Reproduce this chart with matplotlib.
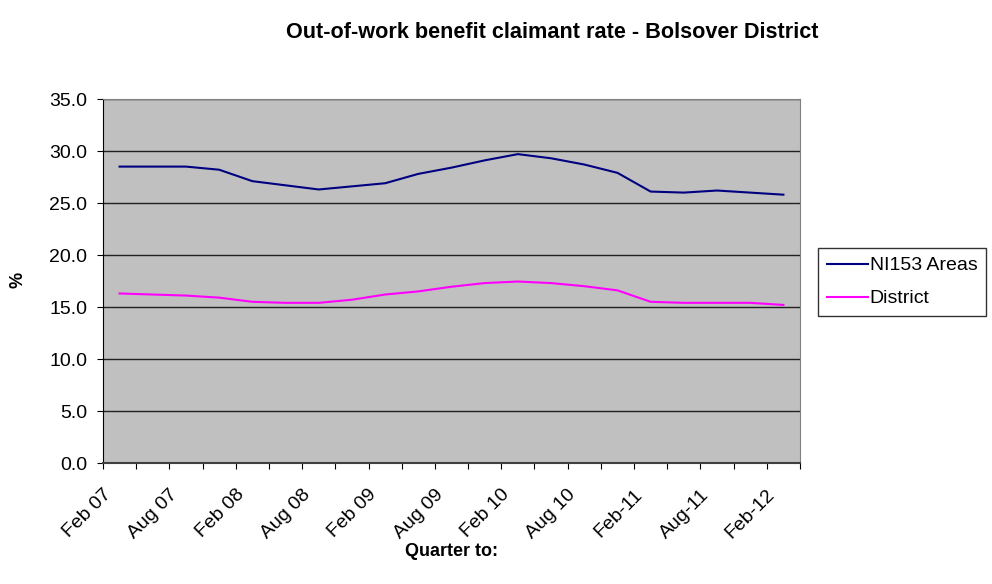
import matplotlib
matplotlib.use("Agg")
from matplotlib import pyplot as plt
from matplotlib.transforms import ScaledTranslation
import numpy as np

plt.rcParams['font.family'] = ['Liberation Sans', 'DejaVu Sans']

QUARTERS = ["Feb 07", "May 07", "Aug 07", "Nov 07", "Feb 08", "May 08", "Aug 08",
            "Nov 08", "Feb 09", "May 09", "Aug 09", "Nov 09", "Feb 10", "May 10",
            "Aug 10", "Nov 10", "Feb-11", "May-11", "Aug-11", "Nov-11", "Feb-12"]

NI153_AREAS = [28.5, 28.5, 28.5, 28.2, 27.1, 26.7, 26.3, 26.6, 26.9, 27.8, 28.4,
               29.1, 29.7, 29.3, 28.7, 27.9, 26.1, 26.0, 26.2, 26.0, 25.8]
DISTRICT = [16.3, 16.2, 16.1, 15.9, 15.5, 15.4, 15.4, 15.7, 16.2, 16.5, 16.95,
            17.3, 17.45, 17.3, 17.0, 16.6, 15.5, 15.4, 15.4, 15.4, 15.2]

fig = plt.figure(figsize=(9.92, 5.84), dpi=100)
ax = fig.add_axes([103 / 992, 1 - 463 / 584, 697 / 992, 364 / 584])
ax.set_facecolor("#C0C0C0")

n = len(QUARTERS)
x = np.arange(n)
ax.plot(x, NI153_AREAS, color="#000080", lw=1.5, label="NI153 Areas")
ax.plot(x, DISTRICT, color="#FF00FF", lw=1.5, label="District")

ax.set_xlim(-0.5, n - 0.5)
ax.set_ylim(0, 35)
yt = np.arange(0, 35.1, 5)
ax.set_yticks(yt)
ax.set_yticklabels([f"{v:.1f}" for v in yt], fontsize=14)
ax.yaxis.grid(True, color="#202020", lw=1)
ax.set_axisbelow(True)

# ticks between categories, labels on every other category
ax.set_xticks(np.arange(-0.5, n, 1))
ax.set_xticklabels([])
ax.set_xticks(x[::2], minor=True)
ax.set_xticklabels(QUARTERS[::2], minor=True, rotation=45, ha="right", va="center",
                   rotation_mode="anchor", fontsize=14)
ax.tick_params(axis="x", which="minor", length=0, pad=21)
ax.tick_params(axis="x", which="major", length=4.5, color="#000000")
ax.tick_params(axis="y", length=4.5, pad=7)
shift = ScaledTranslation(-11 / 100, 0, fig.dpi_scale_trans)
for lbl in ax.get_xticklabels(minor=True):
    lbl.set_transform(lbl.get_transform() + shift)

for side in ["top", "right"]:
    ax.spines[side].set_color("#808080")
ax.spines["left"].set_color("#000000")
ax.spines["bottom"].set_color("#404040")
ax.spines["bottom"].set_linewidth(1.5)

ax.set_ylabel("%", fontsize=13, fontweight="bold", va="center")
ax.yaxis.set_label_coords(-0.122, 0.503)
ax.set_xlabel("Quarter to:", fontsize=13, fontweight="bold", va="center")
ax.xaxis.set_label_coords(0.5, -0.242)
fig.text(552 / 992, 1 - 32 / 584, "Out-of-work benefit claimant rate - Bolsover District",
         ha="center", va="center", fontsize=15.6, fontweight="bold")

leg = ax.legend(loc="center left", bbox_to_anchor=(1.0258, 0.497), frameon=True,
                fancybox=False, edgecolor="#000000", fontsize=14,
                handlelength=2.1, handletextpad=0.1, labelspacing=0.8,
                borderpad=0.45, borderaxespad=0)
leg.get_frame().set_linewidth(1)

fig.savefig("out.png", dpi=100)
